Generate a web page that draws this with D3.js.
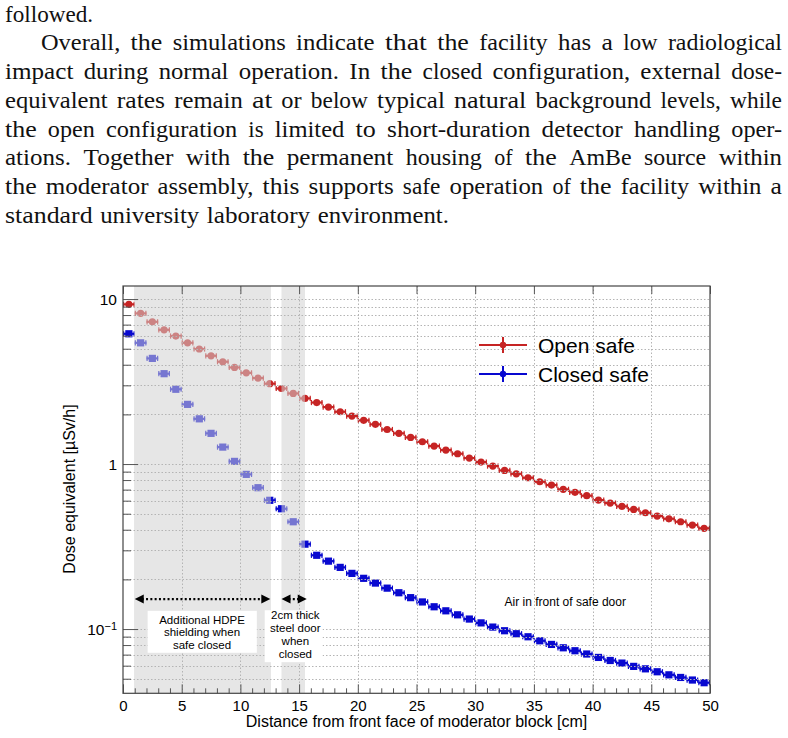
<!DOCTYPE html>
<html><head><meta charset="utf-8">
<script src="https://cdn.jsdelivr.net/npm/d3@7"></script>
<style>body{margin:0;background:#fff}svg{display:block}</style>
</head><body>
<script>
// ---------- data ----------
const paragraphLines = [
  "followed.",
  "Overall, the simulations indicate that the facility has a low radiological",
  "impact during normal operation. In the closed configuration, external dose-",
  "equivalent rates remain at or below typical natural background levels, while",
  "the open configuration is limited to short-duration detector handling oper-",
  "ations.  Together with the permanent housing of the AmBe source within",
  "the moderator assembly, this supports safe operation of the facility within a",
  "standard university laboratory environment."
];
const distance = [0.5,1.5,2.5,3.5,4.5,5.5,6.5,7.5,8.5,9.5,10.5,11.5,12.5,13.5,14.5,15.5,16.5,17.5,18.5,19.5,
  20.5,21.5,22.5,23.5,24.5,25.5,26.5,27.5,28.5,29.5,30.5,31.5,32.5,33.5,34.5,35.5,36.5,37.5,38.5,39.5,
  40.5,41.5,42.5,43.5,44.5,45.5,46.5,47.5,48.5,49.5];
const openSafe = [9.29,8.19,7.28,6.51,5.97,5.43,4.98,4.53,4.17,3.85,3.57,3.32,3.07,2.87,2.68,2.50,2.36,2.215,2.075,1.954,
  1.84,1.74,1.62,1.535,1.45,1.365,1.285,1.215,1.155,1.087,1.028,0.972,0.915,0.873,0.826,0.781,0.746,0.703,0.674,0.643,
  0.605,0.580,0.554,0.531,0.507,0.484,0.466,0.447,0.427,0.408];
const closedSafe = [6.16,5.43,4.37,3.53,2.84,2.30,1.88,1.535,1.267,1.038,0.866,0.719,0.603,0.536,0.447,0.327,0.280,0.258,0.2365,0.2175,
  0.203,0.190,0.177,0.166,0.155,0.146,0.1365,0.129,0.122,0.115,0.109,0.1028,0.0977,0.0937,0.0898,0.0849,0.0807,0.077,0.0739,0.0706,
  0.0673,0.0645,0.0622,0.0594,0.0574,0.0551,0.0528,0.0509,0.0491,0.0473];
const binHalfWidth = 0.5;
const xMajorTicks = [0,5,10,15,20,25,30,35,40,45,50];
const xMinorTicks = d3.range(0,51,1);
const yMajorTicks = [0.1,1,10];
const yMajorLabels = ["10^-1","1","10"];
const yMinorTicks = [0.05,0.06,0.07,0.08,0.09,0.2,0.3,0.4,0.5,0.6,0.7,0.8,0.9,2,3,4,5,6,7,8,9];
const seriesNames = ["Open safe","Closed safe"];
const xTitle = "Distance from front face of moderator block [cm]";
const yTitle = "Dose equivalent [µSv/h]";
const shadedRegions = [[0.94,12.6],[13.5,15.5]];
const hdpeText = ["Additional HDPE","shielding when","safe closed"];
const doorText = ["2cm thick","steel door","when","closed"];
const airText = "Air in front of safe door";

// Computer Modern Roman advance widths (em) used to lay out the paragraph like the original typesetting
const cmWidths = {a:.5,b:.5556,c:.4444,d:.5556,e:.4444,f:.3056,g:.5,h:.5556,i:.2778,j:.3056,k:.5278,l:.2778,m:.8333,
  n:.5556,o:.5,p:.5556,q:.5278,r:.3917,s:.3944,t:.3889,u:.5556,v:.5278,w:.7222,x:.5278,y:.5278,z:.4444,
  A:.75,B:.7083,E:.6806,I:.3611,O:.7778,T:.7222,",":.2778,".":.2778,"-":.3333};

// ---------- setup ----------
const W = 788, H = 738;
const svg = d3.select("body").append("svg").attr("width",W).attr("height",H);
svg.append("rect").attr("width",W).attr("height",H).attr("fill","#fff");

// ---------- paragraph ----------
const pFont = "'Liberation Serif', 'Times New Roman', serif";
const pSize = 22.8;
function cmWidth(w){ let s=0; for (const c of w) s += (cmWidths[c] ?? 0.5); return s*pSize; }
paragraphLines.forEach((line,i) => {
  const y = 21.7 + i*28.7;
  const justify = i>0 && i<paragraphLines.length-1;
  const x0 = (i===1) ? 41 : 5, x1 = 782;
  const words = line.split(/\s+/);
  const widths = words.map(cmWidth);
  const total = d3.sum(widths);
  const gap = justify ? (x1-x0-total)/(words.length-1) : pSize*0.3333;
  const t = svg.append("text").attr("y",y).attr("font-family",pFont).attr("font-size",pSize).attr("fill","#111");
  let x = x0;
  words.forEach((w,k) => {
    t.append("tspan").attr("x",x).attr("textLength",widths[k]).attr("lengthAdjust","spacingAndGlyphs").text(w);
    x += widths[k] + gap;
  });
});

// ---------- chart ----------
const xs = d3.scaleLinear().domain([0,50]).range([123,710]);
const ys = d3.scaleLog().domain([0.0408,12]).range([693.3,286]);
const [L,R] = xs.range(), [B,T] = ys.range();
const sans = "'Liberation Sans', Arial, Helvetica, sans-serif";
const red = "#c62424", blue = "#0808d0";

const plot = svg.append("g");

// data points
function drawSeries(vals, color, shape) {
  const g = plot.append("g");
  const pts = distance.map((d,i)=>({x:d,y:vals[i]}));
  g.selectAll("line.h").data(pts).join("line")
    .attr("x1",d=>xs(d.x-binHalfWidth)).attr("x2",d=>xs(d.x+binHalfWidth))
    .attr("y1",d=>ys(d.y)).attr("y2",d=>ys(d.y)).attr("stroke",color).attr("stroke-width",2.2);
  g.selectAll("line.c1").data(pts).join("line")
    .attr("x1",d=>xs(d.x-binHalfWidth)+0.6).attr("x2",d=>xs(d.x-binHalfWidth)+0.6)
    .attr("y1",d=>ys(d.y)-2.6).attr("y2",d=>ys(d.y)+2.6).attr("stroke",color).attr("stroke-width",1.2);
  g.selectAll("line.c2").data(pts).join("line")
    .attr("x1",d=>xs(d.x+binHalfWidth)-0.6).attr("x2",d=>xs(d.x+binHalfWidth)-0.6)
    .attr("y1",d=>ys(d.y)-2.6).attr("y2",d=>ys(d.y)+2.6).attr("stroke",color).attr("stroke-width",1.2);
  if (shape==="circle") {
    g.selectAll("circle").data(pts).join("circle")
      .attr("cx",d=>xs(d.x)).attr("cy",d=>ys(d.y)).attr("r",3.6).attr("fill",color);
  } else {
    g.selectAll("rect").data(pts).join("rect")
      .attr("x",d=>xs(d.x)-3.6).attr("y",d=>ys(d.y)-3.6).attr("width",7.2).attr("height",7.2).attr("fill",color);
  }
}
drawSeries(openSafe, red, "circle");
drawSeries(closedSafe, blue, "square");

// shaded regions (semi-transparent over points)
plot.selectAll("rect.shade").data(shadedRegions).join("rect")
  .attr("x",d=>xs(d[0])).attr("width",d=>xs(d[1])-xs(d[0]))
  .attr("y",T).attr("height",B-T).attr("fill","#d2d2d2").attr("fill-opacity",0.55);

// grid
const grid = plot.append("g").attr("stroke","#b4b4b4").attr("stroke-width",1).attr("stroke-dasharray","1.5,2");
grid.selectAll("line.v").data(xMajorTicks.filter(v=>v>0&&v<50)).join("line")
  .attr("x1",d=>Math.round(xs(d))+0.5).attr("x2",d=>Math.round(xs(d))+0.5).attr("y1",T).attr("y2",B);
grid.selectAll("line.hh").data(yMajorTicks.concat(yMinorTicks)).join("line")
  .attr("y1",d=>Math.round(ys(d))+0.5).attr("y2",d=>Math.round(ys(d))+0.5).attr("x1",L).attr("x2",R);

// axes
const axCol = "#555";
const xAxis = svg.append("g").attr("transform",`translate(0,${B})`)
  .call(d3.axisBottom(xs).tickValues(xMajorTicks).tickSize(-9).tickPadding(7).tickFormat(d3.format("d")));
svg.append("g").attr("transform",`translate(0,${B})`)
  .call(d3.axisBottom(xs).tickValues(xMinorTicks.filter(v=>v%5)).tickSize(-5).tickFormat(""))
  .call(g=>g.select(".domain").remove());
svg.append("g").attr("transform",`translate(0,${T})`)
  .call(d3.axisTop(xs).tickValues(xMajorTicks).tickSize(-8).tickFormat(""))
  .call(g=>g.select(".domain").remove());
const yAxis = svg.append("g").attr("transform",`translate(${L},0)`)
  .call(d3.axisLeft(ys).tickValues(yMajorTicks).tickSize(-15).tickPadding(6)
     .tickFormat((d,i)=>yMajorLabels[i]));
svg.append("g").attr("transform",`translate(${L},0)`)
  .call(d3.axisLeft(ys).tickValues(yMinorTicks).tickSize(-8).tickFormat(""))
  .call(g=>g.select(".domain").remove());
svg.selectAll(".tick line").attr("stroke",axCol);
svg.selectAll(".domain").attr("stroke","none");
xAxis.selectAll("text").attr("font-family",sans).attr("font-size",15).attr("fill","#000");
yAxis.selectAll("text").attr("font-family",sans).attr("font-size",15.5).attr("fill","#000");
// superscript label
yAxis.selectAll(".tick text").filter(function(){return d3.select(this).text().includes("^");})
  .each(function(){
    const t = d3.select(this); const parts = t.text().split("^");
    t.text(null);
    t.append("tspan").text(parts[0]);
    t.append("tspan").attr("dy","-0.45em").attr("font-size",11).text(parts[1].replace("-","\u2212"));
  });

// frame
svg.append("rect").attr("x",L).attr("y",T).attr("width",R-L).attr("height",B-T)
  .attr("fill","none").attr("stroke","#444").attr("stroke-width",1.2);

// titles
svg.append("text").attr("x",(L+R)/2).attr("y",727).attr("text-anchor","middle")
  .attr("font-family",sans).attr("font-size",16).text(xTitle);
svg.append("text").attr("transform",`translate(75,489) rotate(-90)`).attr("text-anchor","middle")
  .attr("font-family",sans).attr("font-size",16).text(yTitle);

// ---------- annotations ----------
const ann = svg.append("g").attr("font-family",sans).attr("fill","#000");
function dArrow(xa, xb, yv) {
  const y = ys(yv), x0 = xs(xa), x1 = xs(xb);
  ann.append("line").attr("x1",x0+7).attr("x2",x1-7).attr("y1",y).attr("y2",y)
    .attr("stroke","#000").attr("stroke-width",2.2).attr("stroke-dasharray","2,2.3");
  ann.append("path").attr("d",`M${x0},${y}L${x0+9},${y-4.5}L${x0+9},${y+4.5}Z`).attr("fill","#000");
  ann.append("path").attr("d",`M${x1},${y}L${x1-9},${y-4.5}L${x1-9},${y+4.5}Z`).attr("fill","#000");
}
dArrow(1.0, 12.55, 0.152);
dArrow(13.5, 15.65, 0.152);

function textBox(lines, xc, xa, xb, ya, yb, firstBase, lh) {
  ann.append("rect").attr("x",xs(xa)).attr("width",xs(xb)-xs(xa))
     .attr("y",ys(ya)).attr("height",ys(yb)-ys(ya)).attr("fill","#fff");
  const t = ann.append("text").attr("y",ys(firstBase)).attr("text-anchor","middle").attr("font-size",11.5);
  lines.forEach((l,i)=>t.append("tspan").attr("x",xs(xc)).attr("dy",i===0?0:lh).text(l));
}
textBox(hdpeText, 6.73, 2.1, 11.4, 0.129, 0.0718, 0.108, 12.9);
textBox(doorText, 14.68, 12.07, 17.0, 0.130, 0.063, 0.1145, 12.9);
ann.append("text").attr("x",xs(32.5)).attr("y",ys(0.138)).attr("font-size",12).text(airText);

// ---------- legend ----------
const leg = svg.append("g").attr("font-family",sans);
[[seriesNames[0],red],[seriesNames[1],blue]].forEach((d,i)=>{
  const y = 345 + i*29;
  leg.append("line").attr("x1",479).attr("x2",527).attr("y1",y).attr("y2",y).attr("stroke",d[1]).attr("stroke-width",2);
  leg.append("line").attr("x1",503).attr("x2",503).attr("y1",y-8).attr("y2",y+8).attr("stroke",d[1]).attr("stroke-width",2);
  leg.append("circle").attr("cx",503).attr("cy",y).attr("r",3.2).attr("fill",d[1]);
  leg.append("text").attr("x",538).attr("y",y+7.5).attr("font-size",21).attr("fill","#000").text(d[0]);
});
</script>
</body></html>
